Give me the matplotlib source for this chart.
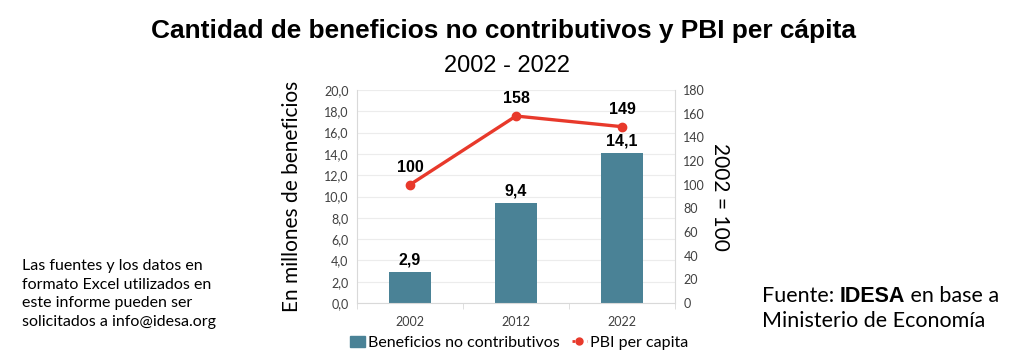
import numpy as np
import matplotlib as mpl
import matplotlib.pyplot as plt
from matplotlib.ticker import FuncFormatter, FixedLocator
from matplotlib.lines import Line2D
from matplotlib.patches import Patch

years = ['2002', '2012', '2022']
beneficios = [2.9, 9.4, 14.1]        # millones de beneficios
pbi = [100, 158, 149]                # 2002 = 100
bar_labels = ['2,9', '9,4', '14,1']

bar_color = '#4a8296'
line_color = '#e8392b'
tick_color = '#404040'
body_font = 'Lato'

fig = plt.figure(figsize=(10.24, 3.59), dpi=100)
ax = fig.add_axes([357 / 1024, 1 - 303 / 359, 318 / 1024, 213 / 359])
ax2 = ax.twinx()

x = np.arange(len(years))
ax.bar(x, beneficios, width=0.4, color=bar_color, zorder=2)
for xi, v, lab in zip(x, beneficios, bar_labels):
    ax.annotate(lab, (xi, v), xytext=(0, 3), textcoords='offset points',
                ha='center', va='bottom', fontsize=11.5, fontweight='bold',
                family='Liberation Sans')

ax2.plot(x, pbi, color=line_color, lw=2.4, marker='o', ms=6, zorder=3)
for xi, v in zip(x, pbi):
    ax2.annotate(str(v), (xi, v), xytext=(0, 7), textcoords='offset points',
                 ha='center', va='bottom', fontsize=11.5, fontweight='bold',
                 family='Liberation Sans')

ax.set_xlim(-0.5, 2.5)
ax.set_ylim(0, 20)
ax2.set_ylim(0, 180)
ax.set_yticks(np.arange(0, 20.1, 2))
ax2.set_yticks(np.arange(0, 181, 20))
ax.yaxis.set_major_formatter(FuncFormatter(lambda v, p: f'{v:.1f}'.replace('.', ',')))
ax.set_xticks(x)
ax.set_xticklabels(years)
ax.xaxis.set_minor_locator(FixedLocator([-0.5, 0.5, 1.5, 2.5]))
ax.tick_params(axis='x', which='major', length=0, pad=9)
ax.tick_params(axis='x', which='minor', length=4, color='#d9d9d9')

for a in (ax, ax2):
    a.tick_params(axis='y', length=0, labelsize=9, labelcolor=tick_color, pad=6)
    for s in a.spines.values():
        s.set_visible(False)
ax.tick_params(axis='x', labelsize=9, labelcolor=tick_color)
for lab in ax.get_xticklabels() + ax.get_yticklabels() + ax2.get_yticklabels():
    lab.set_family(body_font)

ax.spines['left'].set_visible(True)
ax.spines['left'].set_color('#d9d9d9')
ax.spines['bottom'].set_visible(True)
ax.spines['bottom'].set_color('#d9d9d9')
ax2.spines['right'].set_visible(True)
ax2.spines['right'].set_color('#d9d9d9')
ax.grid(axis='y', color='#ececec', lw=0.8, zorder=0)
ax.set_axisbelow(True)

ax.set_ylabel('En millones de beneficios', fontsize=15, family=body_font, labelpad=16)
ax2.set_ylabel('2002 = 100', fontsize=15, family=body_font, rotation=-90,
               labelpad=18)

fig.text(0.492, 0.915, 'Cantidad de beneficios no contributivos y PBI per cápita',
         ha='center', va='center', fontsize=18.9, fontweight='bold',
         family='Liberation Sans')
fig.text(0.495, 0.815, '2002 - 2022', ha='center', va='center', fontsize=17,
         family='Liberation Sans')

handles = [Patch(color=bar_color),
           Line2D([0], [0], color=line_color, lw=2, ls=':', marker='o', ms=5)]
fig.legend(handles, ['Beneficios no contributivos', 'PBI per capita'],
           loc='center', bbox_to_anchor=(0.507, 0.045), ncol=2, frameon=False,
           prop={'family': body_font, 'size': 11.5}, handlelength=0.9,
           handletextpad=0.2, columnspacing=0.8)

fig.text(22 / 1024, 1 - 294 / 359,
         'Las fuentes y los datos en\nformato Excel utilizados en\n'
         'este informe pueden ser\nsolicitados a info@idesa.org',
         ha='left', va='center', fontsize=11.5, family=body_font, linespacing=1.45)

# fuente, con IDESA en negrita
renderer = fig.canvas.get_renderer()
fx, fy = 762 / 1024, 1 - 296 / 359
t1 = fig.text(fx, fy, 'Fuente: ', ha='left', va='center', fontsize=15.5, family=body_font)
w1 = t1.get_window_extent(renderer).width / fig.bbox.width
t2 = fig.text(fx + w1, fy, 'IDESA', ha='left', va='center', fontsize=15.5,
              fontweight='heavy', family='Liberation Sans')
w2 = t2.get_window_extent(renderer).width / fig.bbox.width
fig.text(fx + w1 + w2, fy, ' en base a', ha='left', va='center', fontsize=15.5,
         family=body_font)
fig.text(fx, 1 - 321 / 359, 'Ministerio de Economía', ha='left', va='center',
         fontsize=15.5, family=body_font)

fig.savefig('out.png', dpi=100)
